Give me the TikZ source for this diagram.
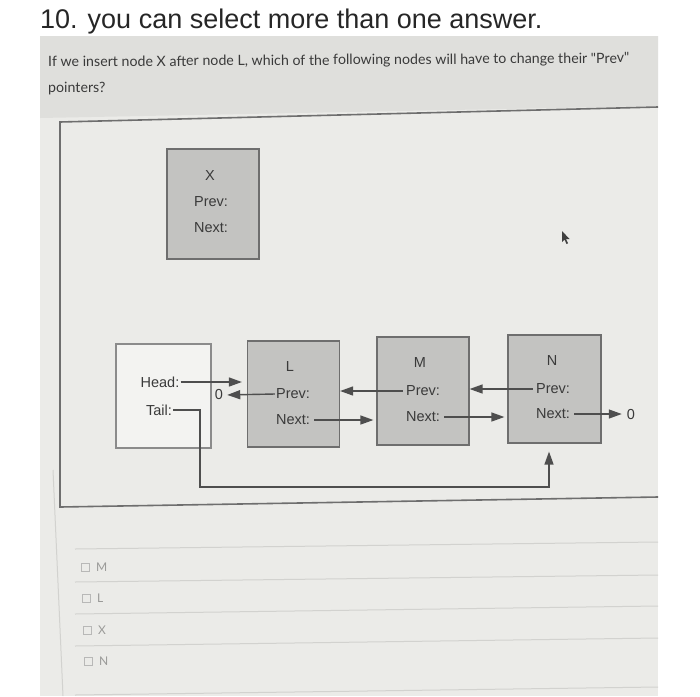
\documentclass[tikz,border=0pt]{standalone}
\usepackage{fontspec}
\setmainfont{Liberation Sans}
\newfontfamily\latofont{Lato}
\usetikzlibrary{arrows.meta}
\definecolor{panelgray}{HTML}{DFDFDC}
\definecolor{contentbg}{HTML}{EBEBE8}
\definecolor{nodefill}{HTML}{C3C3C1}
\definecolor{nodeline}{HTML}{6E6E6E}
\definecolor{txt}{HTML}{3A3A3A}
\definecolor{sepline}{HTML}{D2D2CF}
\definecolor{optgray}{HTML}{9A9A98}
\tikzset{
  listnode/.style={draw=nodeline, line width=1.2pt, fill=nodefill, minimum width=92pt, minimum height=107pt, inner sep=0pt},
  headnode/.style={draw=nodeline!80, line width=1.2pt, fill=contentbg!60!white, minimum width=95pt, minimum height=104pt, inner sep=0pt},
  lbl/.style={text=txt, font=\fontsize{14.5}{16}\selectfont, inner sep=1pt},
  ptr/.style={draw=txt!90, line width=1.4pt, -{Triangle[length=13pt,width=9pt]}},
  opt/.style={text=optgray, font=\latofont\fontsize{12}{14}\selectfont, inner sep=0pt, anchor=west},
  cbox/.style={draw=optgray!70, line width=0.8pt, minimum size=8pt, inner sep=0pt}
}
\begin{document}
\begin{tikzpicture}[x=1pt,y=-1pt]
\useasboundingbox (0,0) rectangle (700,696);
\fill[white] (0,0) rectangle (700,696);
% screenshot area
\fill[contentbg] (40,36) rectangle (658,696);
\fill[panelgray] (40,36) -- (658,36) -- (658,106) -- (40,118) -- cycle;
% title
\node[anchor=base west, inner sep=0pt, text=black!85, font=\fontsize{27}{30}\selectfont] (title) at (40,28) {10. you can select more than one answer.};
% question
\node[anchor=west, inner sep=0pt, text=txt, font=\latofont\fontsize{14.2}{16}\selectfont, rotate=0.4] (q1) at (48,63) {If we insert node X after node L, which of the following nodes will have to change their "Prev"};
\node[anchor=west, inner sep=0pt, text=txt, font=\latofont\fontsize{14.2}{16}\selectfont] (q2) at (48,89) {pointers?};
% frame
\draw[nodeline, line width=1.6pt] (658,107) -- (60,122) -- (60,507) -- (658,497);
% left border of answers
\draw[sepline, line width=1pt] (53,470) -- (63,696);
% separators
\foreach \yl/\yr in {549/542, 582/575, 614/606, 646/638, 695/687}{
  \draw[sepline, line width=1pt] (75,\yl) -- (658,\yr);
}
% options
\node[cbox] (cbM) at (85,567) {};
\node[opt] (oM) at (96,567) {M};
\node[cbox] (cbL) at (86,598) {};
\node[opt] (oL) at (97,598) {L};
\node[cbox] (cbX) at (87,630) {};
\node[opt] (oX) at (98,630) {X};
\node[cbox] (cbN) at (88,661) {};
\node[opt] (oN) at (99,661) {N};
% X node
\node[listnode, minimum height=110pt] (Xbox) at (213,204) {};
\node[lbl] (Xname) at (210,176) {X};
\node[lbl] (Xprev) at (211,202) {Prev:};
\node[lbl] (Xnext) at (211,228) {Next:};
% head / tail
\node[headnode] (Hbox) at (163.5,396) {};
\node[lbl] (Hlbl) at (160,382) {Head:};
\node[lbl] (Tlbl) at (159,410) {Tail:};
% L
\node[listnode, minimum height=106pt] (Lbox) at (293.5,394) {};
\node[lbl] (Lname) at (290,367) {L};
\node[lbl] (Lprev) at (293,394) {Prev:};
\node[lbl] (Lnext) at (293,420) {Next:};
\node[lbl] (zeroL) at (219,395) {0};
% M
\node[listnode, minimum height=108pt] (Mbox) at (423,391) {};
\node[lbl] (Mname) at (420,363) {M};
\node[lbl] (Mprev) at (423,391) {Prev:};
\node[lbl] (Mnext) at (423,417) {Next:};
% N
\node[listnode, minimum height=108pt, minimum width=93pt] (Nbox) at (554.5,389) {};
\node[lbl] (Nname) at (552,361) {N};
\node[lbl] (Nprev) at (553,389) {Prev:};
\node[lbl] (Nnext) at (553,414) {Next:};
\node[lbl] (zeroN) at (631,414) {0};
% pointers
\draw[ptr, shorten >=5pt] (Hlbl.east) -- (Lbox.west |- Hlbl.east);
\draw[ptr, shorten >=3pt] (Lprev.west) -- (zeroL.east);
\draw[ptr] ([xshift=-2pt]Mprev.west) -- (Lbox.east |- Mprev.west);
\draw[ptr] ([xshift=-2pt]Nprev.west) -- (Mbox.east |- Nprev.west);
\draw[ptr, shorten >=3pt] ([xshift=3pt]Lnext.east) -- (Mbox.west |- Lnext.east);
\draw[ptr, shorten >=3pt] ([xshift=3pt]Mnext.east) -- (Nbox.west |- Mnext.east);
\draw[ptr, shorten >=4pt] ([xshift=3pt]Nnext.east) -- (zeroN.west);
\coordinate (tailturn) at (200,410);
\draw[ptr, shorten >=8pt] (Tlbl.east) -- (tailturn) -- (200,487) -- (549,487) -- (Nbox.south -| 549,0);
% mouse cursor
\fill[black!75] (562,231) -- (562,242) -- (564.5,239.5) -- (566.5,244) -- (568,243.3) -- (566,239) -- (569.5,239) -- cycle;
\end{tikzpicture}
\end{document}
